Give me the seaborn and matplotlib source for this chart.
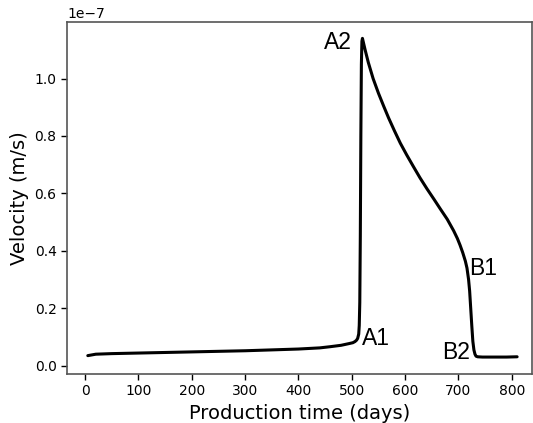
import numpy as np
import pandas as pd
import matplotlib
matplotlib.use("Agg")
import matplotlib.pyplot as plt
import seaborn as sns

# Production time (days) and velocity (1e-7 m/s) along the simulated history
days = [5, 20, 50, 100, 150, 200, 250, 300, 350, 400, 440, 459, 480, 495, 502, 506,
        509, 511, 513, 514, 515, 516, 517, 518, 519, 520, 525, 531, 540, 550, 560,
        569, 580, 591, 603, 616, 628, 641, 654, 666, 679, 691, 698, 703, 708, 713,
        716, 719, 721, 723, 725, 727, 729, 731, 733, 736, 745, 770, 790, 810]
velocity = [0.035, 0.040, 0.042, 0.044, 0.046, 0.048, 0.050, 0.052, 0.055, 0.058,
            0.062, 0.066, 0.071, 0.077, 0.080, 0.084, 0.089, 0.095, 0.11, 0.14,
            0.22, 0.45, 0.80, 1.05, 1.13, 1.14, 1.10, 1.056, 1.00, 0.949, 0.903,
            0.863, 0.818, 0.775, 0.734, 0.692, 0.654, 0.616, 0.580, 0.546, 0.510,
            0.470, 0.443, 0.420, 0.394, 0.364, 0.340, 0.30, 0.26, 0.20, 0.14,
            0.085, 0.055, 0.040, 0.033, 0.031, 0.030, 0.030, 0.030, 0.031]

labels = ["A1", "A2", "B1", "B2"]
label_pos = [(519, 0.095), (500, 1.125), (720, 0.34), (722, 0.045)]
label_align = ["left", "right", "left", "right"]

df = pd.DataFrame({"t": days, "v": np.array(velocity) * 1e-7})

sns.set_style("ticks")
plt.rcParams["font.family"] = ["DejaVu Sans"]
plt.rcParams.update({"text.color": "black", "axes.labelcolor": "black",
                     "xtick.color": "black", "ytick.color": "black"})

fig = plt.figure(figsize=(5.33, 4.23), dpi=100)
ax = fig.add_axes([0.1257, 0.1165, 0.8715, 0.8315])
sns.lineplot(data=df, x="t", y="v", ax=ax, color="black", linewidth=2.2, sort=False)

ax.set_xlim(-34, 837)
ax.set_ylim(-0.028e-7, 1.197e-7)
ax.set_xticks(np.arange(0, 801, 100))
ax.set_yticks(np.arange(0, 1.01e-7, 0.2e-7))
ax.ticklabel_format(axis="y", style="sci", scilimits=(0, 0))
ax.tick_params(labelsize=10, color="black", length=4, width=1)
ax.set_xlabel("Production time (days)", fontsize=14)
ax.set_ylabel("Velocity (m/s)", fontsize=14)
for s in ax.spines.values():
    s.set_visible(True)
    s.set_color("#555555")
    s.set_linewidth(1.2)

for lab, (x, y), ha in zip(labels, label_pos, label_align):
    ax.text(x, y * 1e-7, lab, ha=ha, va="center", fontsize=16.5,
            family="Liberation Sans")

fig.savefig("out.png", dpi=100)
